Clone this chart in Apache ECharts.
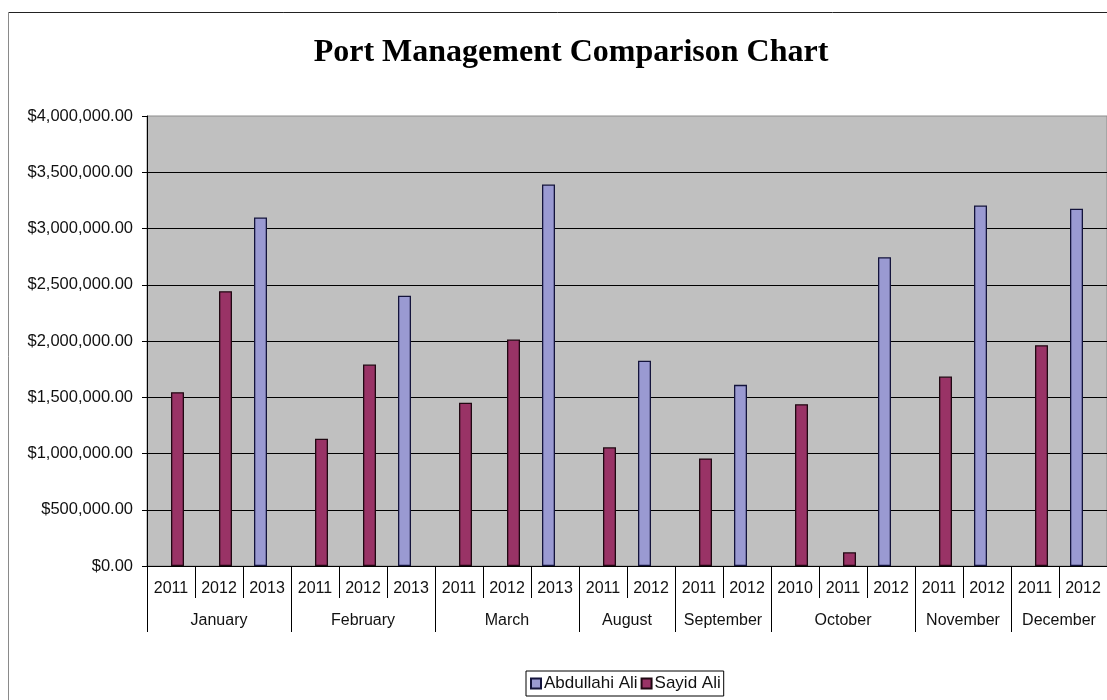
<!DOCTYPE html>
<html>
<head>
<meta charset="utf-8">
<title>Port Management Comparison Chart</title>
<script src="https://cdn.jsdelivr.net/npm/echarts@6/dist/echarts.min.js"></script>
<style>
  html, body { margin: 0; padding: 0; background: #ffffff; }
  #chart { width: 1107px; height: 700px; }
</style>
</head>
<body>
<div id="chart"></div>
<script>
// Year slots along the lower axis, grouped by month
const years = ["2011", "2012", "2013", "2011", "2012", "2013", "2011", "2012", "2013",
               "2011", "2012", "2011", "2012", "2010", "2011", "2012", "2011", "2012",
               "2011", "2012"];
const months = ["January", "February", "March", "August", "September", "October", "November", "December"];
const monthSpans = [3, 3, 3, 2, 2, 3, 2, 2];

// Revenue per slot (null where a manager has no figure)
const abdullahiAli = [null, null, 3098000, null, null, 2402000, null, null, 3391000,
                      null, 1824000, null, 1610000, null, null, 2745000, null, 3204000,
                      null, 3175000];
const sayidAli = [1545000, 2443000, null, 1131000, 1791000, null, 1451000, 2013000, null,
                  1055000, null, 956000, null, 1438000, 122000, null, 1684000, null,
                  1963000, null];

const yTicks = { min: 0, max: 4000000, interval: 500000 };

// Month group boundaries and centres, in slot units
const monthBounds = [0];
const monthCentres = [];
monthSpans.forEach(function (s) {
  const start = monthBounds[monthBounds.length - 1];
  monthCentres.push(start + s / 2);
  monthBounds.push(start + s);
});

const sans = "'Liberation Sans', Arial, sans-serif";
const chart = echarts.init(document.getElementById('chart'));

function money(v) {
  return '$' + Number(v).toLocaleString('en-US', { minimumFractionDigits: 2, maximumFractionDigits: 2 });
}

chart.setOption({
  animation: false,
  backgroundColor: '#ffffff',
  title: {
    text: 'Port Management Comparison Chart',
    left: 566,
    textAlign: 'center',
    top: 32,
    textStyle: {
      fontFamily: "'Liberation Serif', 'Times New Roman', serif",
      fontWeight: 'bold',
      fontSize: 32,
      color: '#000000'
    }
  },
  graphic: [
    { type: 'line', shape: { x1: 8.5, y1: 12.5, x2: 1107, y2: 12.5 }, style: { stroke: '#222222', lineWidth: 1 }, silent: true },
    { type: 'line', shape: { x1: 8.5, y1: 12.5, x2: 8.5, y2: 700 }, style: { stroke: '#8a8a8a', lineWidth: 1 }, silent: true }
  ],
  legend: {
    data: ['Abdullahi Ali', 'Sayid Ali'],
    left: 526,
    top: 671,
    orient: 'horizontal',
    icon: 'rect',
    itemWidth: 10,
    itemHeight: 10,
    itemGap: 3,
    padding: [4, 3, 4, 4],
    borderColor: '#000000',
    borderWidth: 1,
    textStyle: { fontFamily: sans, fontSize: 17, color: '#111111', padding: [0, 0, 0, -2] }
  },
  grid: {
    left: 147,
    top: 116,
    right: 0,
    bottom: 134,
    show: true,
    backgroundColor: '#c0c0c0',
    borderColor: '#8c8c8c',
    borderWidth: 1
  },
  xAxis: [
    {
      type: 'category',
      data: years,
      position: 'bottom',
      axisLine: { show: true, lineStyle: { color: '#000000', width: 1 } },
      axisTick: { show: true, interval: 0, length: 32, lineStyle: { color: '#000000', width: 1 } },
      axisLabel: { interval: 0, margin: 15, fontFamily: sans, fontSize: 16, color: '#111111' },
      splitLine: { show: false }
    },
    {
      type: 'value',
      min: 0,
      max: years.length,
      position: 'bottom',
      axisLine: { show: false },
      axisTick: { show: true, customValues: monthBounds, length: 66, lineStyle: { color: '#000000', width: 1 } },
      axisLabel: {
        customValues: monthCentres,
        margin: 47,
        fontFamily: sans,
        fontSize: 16,
        color: '#111111',
        formatter: function (v) {
          const i = monthCentres.indexOf(v);
          return i >= 0 ? months[i] : '';
        }
      },
      splitLine: { show: false }
    }
  ],
  yAxis: {
    type: 'value',
    min: yTicks.min,
    max: yTicks.max,
    interval: yTicks.interval,
    axisLine: { show: true, lineStyle: { color: '#000000', width: 1 } },
    axisTick: { show: true, length: 5, lineStyle: { color: '#000000', width: 1 } },
    axisLabel: { margin: 14, fontFamily: sans, fontSize: 16.5, color: '#111111', formatter: money },
    splitLine: { show: true, showMinLine: false, showMaxLine: false, lineStyle: { color: '#000000', width: 1 } }
  },
  series: [
    {
      name: 'Abdullahi Ali',
      type: 'bar',
      data: abdullahiAli,
      barWidth: 13,
      barGap: '0%',
      itemStyle: { color: '#9a9ad2', borderColor: '#14143c', borderWidth: 1.3 }
    },
    {
      name: 'Sayid Ali',
      type: 'bar',
      data: sayidAli,
      barWidth: 13,
      barGap: '0%',
      itemStyle: { color: '#993366', borderColor: '#200812', borderWidth: 1.3 }
    }
  ]
});
</script>
</body>
</html>
